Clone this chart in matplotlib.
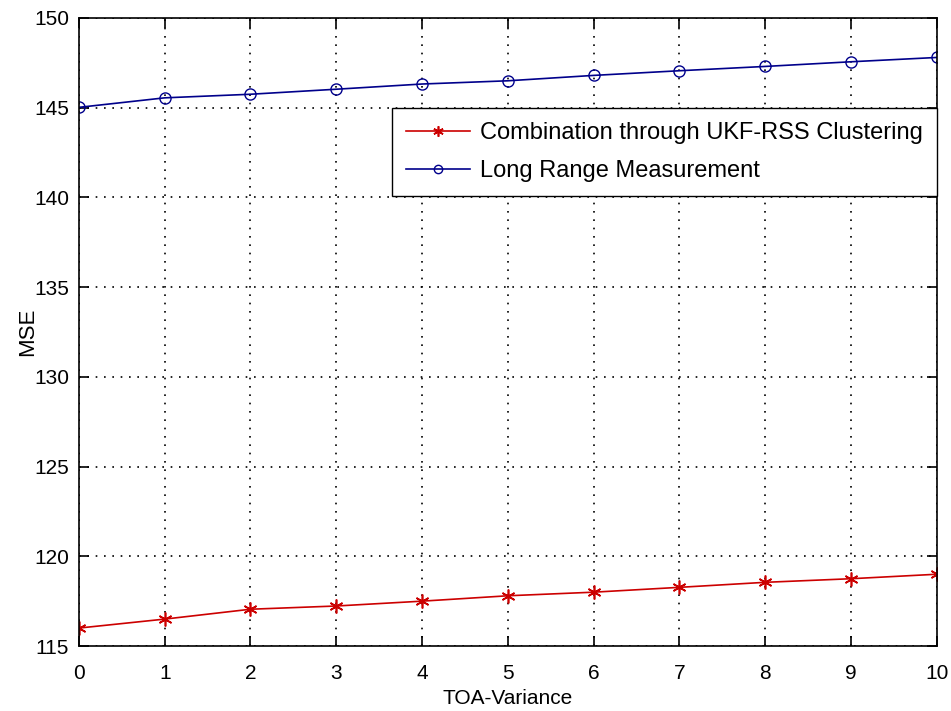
import matplotlib
matplotlib.use('Agg')
import matplotlib.pyplot as plt

# data
toa_variance = [0, 1, 2, 3, 4, 5, 6, 7, 8, 9, 10]
mse_ukf_rss = [116.0, 116.5, 117.05, 117.23, 117.5, 117.8, 118.0, 118.27, 118.55, 118.75, 119.0]
mse_long_range = [145.02, 145.55, 145.75, 146.03, 146.32, 146.5, 146.8, 147.06, 147.3, 147.56, 147.8]

plt.rcParams['font.family'] = ['Liberation Sans', 'DejaVu Sans']

fig = plt.figure(figsize=(9.51, 7.11), dpi=100)
ax = fig.add_axes([0.083, 0.0914, 0.902, 0.8833])

ax.plot(toa_variance, mse_ukf_rss, color='#cc0000', marker=(6, 2, 0), markersize=10,
        linewidth=1.2, markeredgewidth=1.2, label='Combination through UKF-RSS Clustering')
ax.plot(toa_variance, mse_long_range, color='#00008b', marker='o', markersize=8,
        markerfacecolor='none', linewidth=1.2, label='Long Range Measurement')

ax.set_xlim(0, 10)
ax.set_ylim(115, 150)
ax.set_xticks(range(0, 11))
ax.set_yticks(range(115, 151, 5))
ax.grid(True, linestyle=(0, (1, 4)), color='black', linewidth=1.2)
ax.tick_params(direction='in', top=True, right=True, labelsize=15, length=7, width=1.2)
ax.tick_params(axis='x', pad=13)
ax.tick_params(axis='y', pad=7)
for s in ax.spines.values():
    s.set_linewidth(1.2)

ax.set_xlabel('TOA-Variance', fontsize=15, labelpad=4)
ax.set_ylabel('MSE', fontsize=16, labelpad=-3)

leg = ax.legend(loc='upper right', bbox_to_anchor=(1.0, 0.8567), fontsize=17,
                fancybox=False, framealpha=1, edgecolor='black', borderaxespad=0,
                borderpad=0.6, handlelength=2.7, handletextpad=0.4, labelspacing=0.68,
                markerscale=0.75)
leg.get_frame().set_linewidth(1.0)

fig.savefig('out.png', dpi=100)
